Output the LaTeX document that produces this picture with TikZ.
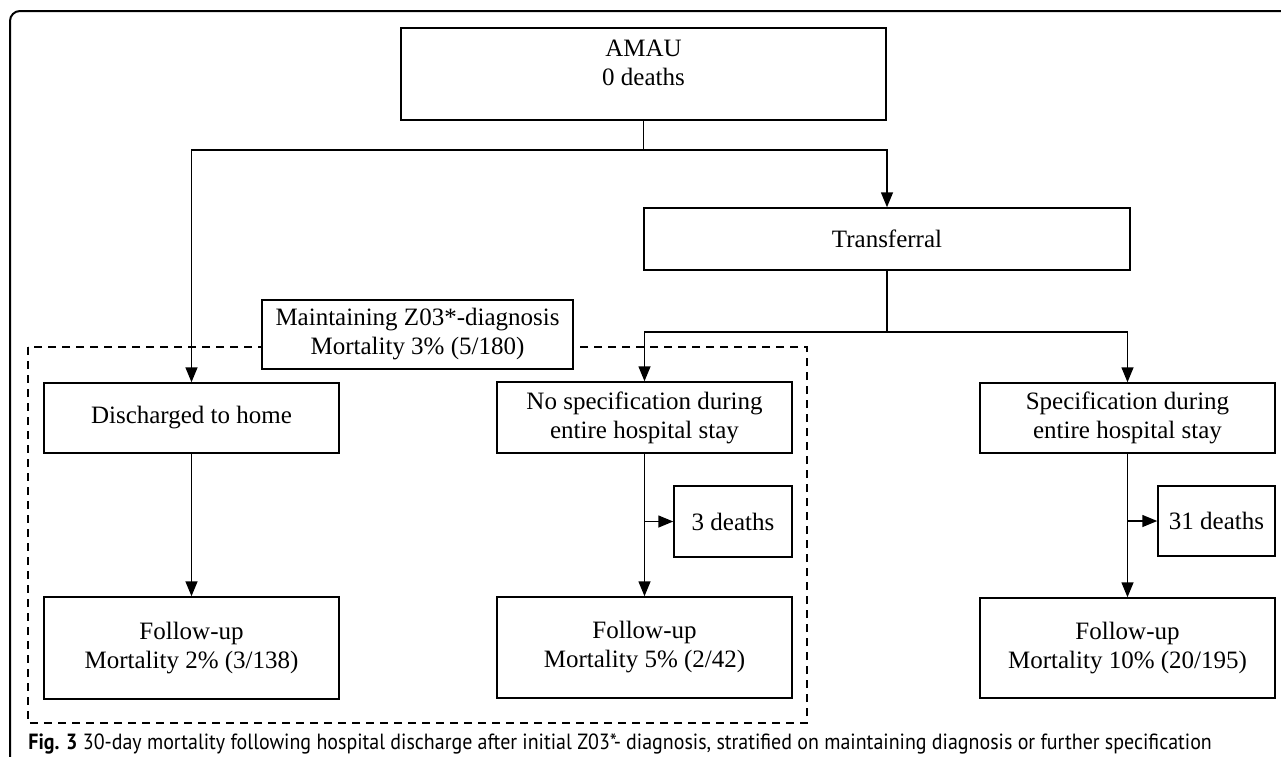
\documentclass[tikz,border=0pt]{standalone}
\usepackage{fontspec}
\setmainfont{Liberation Serif}
\newfontfamily\capfont{PT Sans}
\usetikzlibrary{arrows.meta}
\begin{document}
\begin{tikzpicture}[x=0.5pt,y=-0.5pt,
  boxtext/.style={inner sep=0pt, align=center, font=\fontsize{12.5}{14.5}\selectfont},
  box/.style={boxtext, draw, line width=0.75pt, fill=white},
  conn/.style={line width=0.75pt},
  arr/.style={line width=0.75pt, -{Triangle[length=7.5pt,width=6pt]}},
  dashbox/.style={draw, line width=0.65pt, dash pattern=on 4pt off 3pt}]
\useasboundingbox (0,0) rectangle (1281,756);
% outer frame
\draw[line width=1pt, rounded corners=5pt] (10,760) -- (10,11) -- (1285,11);
% dashed group
\coordinate (dtl) at (28,347);
\coordinate (dbr) at (807,723);
\draw[dashbox] (dtl) rectangle (dbr);
% nodes
\node[box, minimum width=242.5pt, minimum height=46pt] (amau) at (643.5,74) {};
\node[boxtext] (amautxt) at (643.5,63) {AMAU\\0 deaths};
\node[box, minimum width=243pt, minimum height=31pt] (trans) at (887,239) {Transferral};
\node[box, minimum width=155.5pt, minimum height=34.5pt] (maint) at (417.5,334.5) {Maintaining Z03*-diagnosis\\Mortality 3\% (5/180)};
\node[box, minimum width=147.5pt, minimum height=35pt] (disc) at (191.5,418) {Discharged to home};
\node[box, minimum width=147.5pt, minimum height=35.5pt] (nospec) at (644.5,417.5) {No specification during\\entire hospital stay};
\node[box, minimum width=147.5pt, minimum height=35pt] (spec) at (1127.5,418) {Specification during\\entire hospital stay};
\node[box, minimum width=59pt, minimum height=35.5pt] (d3) at (733,521.5) {3 deaths};
\node[box, minimum width=58.5pt, minimum height=35pt] (d31) at (1216.5,521) {31 deaths};
\node[box, minimum width=147.5pt, minimum height=51pt] (fu1) at (191.5,648) {Follow-up\\Mortality 2\% (3/138)};
\node[box, minimum width=147.5pt, minimum height=50.5pt] (fu2) at (644.5,647.5) {Follow-up\\Mortality 5\% (2/42)};
\node[box, minimum width=147.5pt, minimum height=50pt] (fu3) at (1127.5,648) {Follow-up\\Mortality 10\% (20/195)};
% connectors
\draw[conn] (amau.south) -- ++(0,29) coordinate (j1);
\draw[arr] (j1) -| (disc.north);
\draw[arr] (j1) -| (trans.north);
\draw[conn] (trans.south) -- ++(0,61) coordinate (j2);
\draw[arr] (j2) -| (nospec.north);
\draw[arr] (j2) -| (spec.north);
\draw[arr] (disc.south) -- (fu1.north);
\draw[arr] (nospec.south) -- (fu2.north);
\draw[arr] (spec.south) -- (fu3.north);
\draw[arr] (nospec.south |- d3.west) -- (d3.west);
\draw[arr] (spec.south |- d31.west) -- (d31.west);
% caption
\node[anchor=base west, inner sep=0pt, font=\capfont\fontsize{11}{13}\selectfont] (cap) at (28,749)
  {\scalebox{0.907}[1]{\textbf{Fig. 3} 30-day mortality following hospital discharge after initial Z03*- diagnosis, stratified on maintaining diagnosis or further specification}};
\end{tikzpicture}
\end{document}
